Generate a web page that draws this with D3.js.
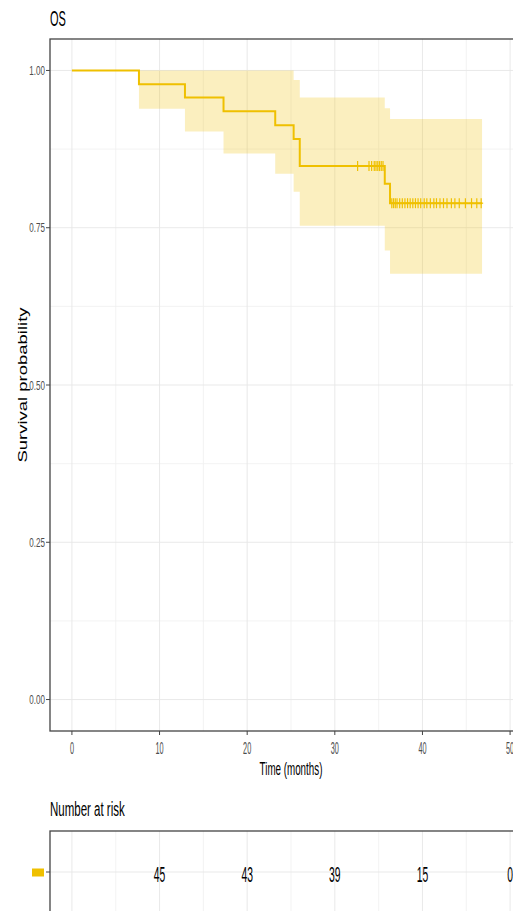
<!DOCTYPE html>
<html><head><meta charset="utf-8">
<script src="https://cdn.jsdelivr.net/npm/d3@7"></script>
<style>body{margin:0;background:#fff;}svg{display:block;font-family:"Liberation Sans",Arial,sans-serif;}</style>
</head><body>
<svg id="c" width="513" height="911"></svg>
<script>
// ---- data ----
const stepTimes = [0, 7.65, 12.9, 17.3, 23.2, 25.3, 26.0, 35.7, 36.3, 46.8];
const survival  = [1, 0.978, 0.957, 0.935, 0.913, 0.891, 0.848, 0.820, 0.789, 0.789];
const upperCI   = [1, 1.0, 1.0, 1.0, 1.0, 0.985, 0.957, 0.940, 0.923, 0.923];
const lowerCI   = [1, 0.939, 0.903, 0.868, 0.836, 0.807, 0.753, 0.714, 0.677, 0.677];
const censorTimes = [32.6, 33.9, 34.2, 34.5, 34.7, 34.9, 35.1, 35.3, 35.5,
  36.5, 36.7, 36.9, 37.1, 37.4, 37.7, 38.0, 38.3, 38.6, 38.9, 39.2, 39.5, 39.8,
  40.2, 40.5, 40.9, 41.3, 41.6, 42.0, 42.4, 42.8, 43.3, 43.7, 44.2, 44.9, 45.6, 46.2, 46.7];
const xTicks = [0, 10, 20, 30, 40, 50];
const xMinor = [5, 15, 25, 35, 45];
const yTicks = [0, 0.25, 0.5, 0.75, 1.0];
const yMinor = [0.125, 0.375, 0.625, 0.875];
const riskTimes  = [0, 10, 20, 30, 40, 50];
const riskCounts = ["", "45", "43", "39", "15", "0"];
const titleText = "OS";
const xTitle = "Time (months)";
const yTitle = "Survival probability";
const riskTitle = "Number at risk";

// ---- drawing ----
const col = "#EFC000";
const svg = d3.select("#c");
const x = d3.scaleLinear().domain([-2.5, 52.5]).range([50, 532]);
const y = d3.scaleLinear().domain([-0.05, 1.05]).range([731, 39]);
const rowY = 872;
const riskTop = 831, riskBottom = 915;

function txt(g, str, tx, ty, fs, sx, anchor, fill){
  return g.append("text").attr("transform", `translate(${tx},${ty}) scale(${sx},1)`)
    .attr("font-size", fs).attr("text-anchor", anchor || "start")
    .attr("fill", fill || "#000").text(str);
}

// grids main
const grid = svg.append("g");
xMinor.forEach(v => grid.append("line").attr("x1", x(v)).attr("x2", x(v)).attr("y1", 39).attr("y2", 731).attr("stroke", "#f0f0f0").attr("stroke-width", 0.8));
yMinor.forEach(v => grid.append("line").attr("x1", 50).attr("x2", 532).attr("y1", y(v)).attr("y2", y(v)).attr("stroke", "#f0f0f0").attr("stroke-width", 0.8));
xTicks.forEach(v => grid.append("line").attr("x1", x(v)).attr("x2", x(v)).attr("y1", 39).attr("y2", 731).attr("stroke", "#e6e6e6").attr("stroke-width", 0.9));
yTicks.forEach(v => grid.append("line").attr("x1", 50).attr("x2", 532).attr("y1", y(v)).attr("y2", y(v)).attr("stroke", "#e6e6e6").attr("stroke-width", 0.9));

// data rows
const rows = stepTimes.map((t, i) => ({t, s: survival[i], u: upperCI[i], l: lowerCI[i]}));

svg.append("path").datum(rows)
  .attr("d", d3.area().curve(d3.curveStepAfter).x(d => x(d.t)).y0(d => y(d.l)).y1(d => y(d.u)))
  .attr("fill", col).attr("fill-opacity", 0.25).attr("stroke", "none");

svg.append("path").datum(rows)
  .attr("d", d3.line().curve(d3.curveStepAfter).x(d => x(d.t)).y(d => y(d.s)))
  .attr("fill", "none").attr("stroke", col).attr("stroke-width", 2);

// censor marks
const survAt = t => survival[Math.max(0, d3.bisectRight(stepTimes, t) - 1)];
const cg = svg.append("g").attr("stroke", col).attr("stroke-width", 1.2);
censorTimes.forEach(t => {
  const cx = x(t), cy = y(survAt(t));
  cg.append("line").attr("x1", cx).attr("x2", cx).attr("y1", cy - 5).attr("y2", cy + 5);
  cg.append("line").attr("x1", cx - 2).attr("x2", cx + 2).attr("y1", cy).attr("y2", cy);
});

// panel border
svg.append("rect").attr("x", 50).attr("y", 39).attr("width", 482).attr("height", 692)
  .attr("fill", "none").attr("stroke", "#444").attr("stroke-width", 1.3);

// axes ticks
const ax = svg.append("g");
yTicks.forEach(v => {
  ax.append("line").attr("x1", 46).attr("x2", 50).attr("y1", y(v)).attr("y2", y(v)).attr("stroke", "#444").attr("stroke-width", 1);
  txt(ax, d3.format(".2f")(v), 45, y(v) + 4.5, 12, 0.67, "end", "#4d4d4d");
});
xTicks.forEach(v => {
  ax.append("line").attr("x1", x(v)).attr("x2", x(v)).attr("y1", 731).attr("y2", 735).attr("stroke", "#444").attr("stroke-width", 1);
  txt(ax, String(v), x(v), 753.5, 17, 0.43, "middle", "#4d4d4d");
});

// titles
txt(svg, titleText, 50, 26, 22, 0.5, "start");
txt(svg, xTitle, x(25), 774.5, 18, 0.545, "middle");
svg.append("text").attr("transform", "translate(27,385) scale(0.7,1) rotate(-90)")
  .attr("font-size", 18.5).attr("text-anchor", "middle").attr("fill", "#000").text(yTitle);

// risk table
txt(svg, riskTitle, 50, 816, 19.5, 0.59, "start");
const rg = svg.append("g");
xMinor.forEach(v => rg.append("line").attr("x1", x(v)).attr("x2", x(v)).attr("y1", riskTop).attr("y2", riskBottom).attr("stroke", "#f0f0f0").attr("stroke-width", 0.8));
xTicks.forEach(v => rg.append("line").attr("x1", x(v)).attr("x2", x(v)).attr("y1", riskTop).attr("y2", riskBottom).attr("stroke", "#e6e6e6").attr("stroke-width", 0.9));
rg.append("line").attr("x1", 50).attr("x2", 532).attr("y1", rowY).attr("y2", rowY).attr("stroke", "#e6e6e6").attr("stroke-width", 0.9);
rg.append("rect").attr("x", 50).attr("y", riskTop).attr("width", 482).attr("height", riskBottom - riskTop)
  .attr("fill", "none").attr("stroke", "#444").attr("stroke-width", 1.3);
rg.append("line").attr("x1", 46).attr("x2", 50).attr("y1", rowY).attr("y2", rowY).attr("stroke", "#444").attr("stroke-width", 1);
rg.append("rect").attr("x", 32).attr("y", 868.5).attr("width", 12).attr("height", 8).attr("fill", col);
riskTimes.forEach((t, i) => {
  if (riskCounts[i] !== "") txt(rg, riskCounts[i], x(t), 882, 21.5, 0.48, "middle", "#000");
});
</script>
</body></html>
